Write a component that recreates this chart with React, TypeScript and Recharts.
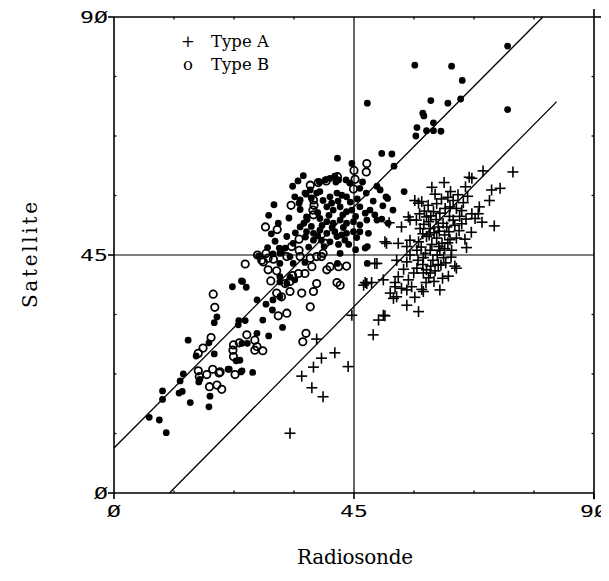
import React from 'react';
import { ScatterChart, Scatter, XAxis, YAxis, ReferenceLine, Customized } from 'recharts';

// Type A (plus markers)
const typeA: [number, number][] = [
  [69.2, 60.9], [74.8, 60.7], [67.1, 59.5], [66.6, 59.7], [61.9, 58.7], [59.6, 57.8], [72.4, 57.6], [70.8, 57.3],
  [70.4, 55.3], [56.4, 55.3], [57.7, 55.1], [62.6, 55.9], [63.6, 55.3], [65.5, 54.9], [65.2, 53.4], [67.1, 52.8],
  [68.3, 52.8], [67.7, 51.9], [55.5, 51.6], [56.7, 51.6], [58.6, 52.2], [59.9, 53.2], [61.1, 52.9], [62.1, 53.8],
  [63.0, 54.1], [64.2, 53.8], [51.6, 51.1], [53.9, 50.3], [71.3, 50.5], [57.4, 50.0], [59.3, 50.0], [60.8, 50.3],
  [62.4, 50.3], [63.9, 50.6], [65.2, 50.9], [50.8, 47.5], [53.3, 47.2], [55.5, 47.8], [57.1, 47.5], [58.6, 48.5],
  [60.5, 48.2], [62.0, 48.8], [63.0, 47.9], [64.2, 48.2], [56.8, 45.9], [59.3, 45.9], [61.1, 45.9], [62.0, 46.2],
  [63.3, 45.9], [48.9, 43.4], [53.0, 44.0], [54.9, 43.7], [56.8, 42.5], [58.6, 42.2], [59.3, 41.6], [58.0, 41.6],
  [60.8, 43.2], [63.9, 42.9], [64.2, 42.5], [50.5, 40.3], [47.4, 39.6], [46.8, 39.3], [53.3, 40.9], [55.2, 40.3],
  [55.8, 39.0], [57.7, 38.5], [61.1, 38.4], [53.9, 38.7], [52.7, 39.0], [51.8, 37.8], [52.4, 36.8], [53.0, 37.1],
  [54.9, 35.5], [57.1, 34.3], [50.5, 33.6], [49.6, 32.7], [48.6, 29.9], [44.6, 33.6], [50.8, 33.5], [38.0, 29.1],
  [41.4, 26.5], [38.9, 25.5], [37.4, 23.8], [35.2, 22.1], [37.1, 19.9], [39.2, 18.2], [43.9, 23.9], [33.0, 11.3],
  [60.2, 56.5], [61.4, 55.6], [58.9, 54.4], [60.5, 54.7], [64.5, 56.4], [66.3, 56.1], [59.0, 51.3], [60.0, 49.2],
  [61.7, 51.0], [63.6, 51.6], [57.9, 49.0], [59.6, 47.0], [61.5, 47.2], [58.0, 44.5], [59.8, 44.0], [61.8, 44.5],
  [60.2, 42.0], [62.7, 41.0], [57.0, 44.0], [55.5, 45.0], [60.0, 40.0], [58.5, 39.8], [56.4, 37.0], [62.2, 43.5],
  [65.8, 48.0], [67.0, 49.3], [69.0, 51.2], [68.5, 54.1], [49.3, 43.4], [47.1, 39.8], [48.3, 39.8], [52.7, 39.8],
  [55.2, 52.2], [57.1, 54.8], [51.1, 47.2], [54.9, 46.6], [58.0, 38.1], [54.9, 38.4],
  [58.2, 53.3], [59.4, 52.4], [60.4, 51.7], [62.9, 52.3], [64.8, 52.3], [66.0, 51.8], [58.1, 50.8], [61.0, 49.5],
  [62.8, 49.4], [64.7, 49.6], [59.1, 48.8], [60.9, 46.6], [62.6, 47.3], [57.6, 46.5], [58.4, 45.3], [60.6, 45.0],
  [61.3, 43.1], [59.4, 42.9], [57.9, 43.2], [59.0, 40.7], [61.6, 40.6], [56.2, 41.6], [54.3, 42.3], [63.2, 44.6],
  [66.1, 46.4], [57.3, 52.8], [65.9, 57.9], [63.1, 57.0],
];

// Type B (open circles)
const typeB: [number, number][] = [
  [47.4, 62.3], [47.3, 60.7], [45.0, 61.0], [45.2, 59.3], [44.9, 57.5], [41.9, 59.8], [39.8, 59.0], [38.3, 58.7],
  [36.8, 58.2], [33.2, 54.4], [37.3, 53.5], [37.5, 54.4], [37.4, 55.4], [37.4, 52.6], [28.4, 50.3], [30.6, 49.8],
  [34.7, 48.0], [33.3, 46.6], [34.7, 45.9], [34.9, 44.7], [32.4, 44.7], [39.6, 47.2], [39.2, 45.3], [26.9, 45.0],
  [27.7, 44.0], [28.9, 44.4], [29.9, 44.2], [28.5, 45.3], [28.0, 43.7], [24.6, 43.3], [36.8, 44.4], [38.0, 44.7],
  [38.9, 44.7], [40.5, 42.8], [43.6, 42.9], [37.1, 42.8], [39.9, 42.2], [42.1, 42.8], [28.9, 42.2], [30.5, 42.0],
  [29.4, 40.1], [33.5, 41.1], [33.0, 40.0], [34.6, 41.5], [35.8, 41.5], [38.0, 39.6], [37.4, 38.1], [35.2, 37.8],
  [33.0, 38.1], [32.1, 39.6], [41.8, 39.8], [42.4, 39.3], [30.5, 37.8], [31.4, 37.1], [18.6, 37.6], [18.9, 35.1],
  [30.8, 33.5], [32.4, 34.0], [36.8, 35.2], [36.0, 30.2], [35.4, 28.6], [24.9, 29.9], [23.5, 28.4], [22.4, 28.0],
  [22.3, 27.0], [26.4, 28.9], [26.8, 27.7], [26.4, 27.0], [27.9, 26.9], [18.2, 29.4], [16.7, 27.4], [15.8, 26.4],
  [22.4, 25.8], [22.7, 22.4], [15.8, 23.1], [16.0, 22.0], [17.4, 22.4], [18.5, 23.4], [19.9, 22.9], [17.9, 20.1],
  [19.3, 20.4], [20.2, 19.6], [19.7, 22.7],
];

// Unlabelled (filled dots)
const typeC: [number, number][] = [
  [73.8, 84.5], [63.3, 80.7], [56.4, 80.9], [65.3, 78.0], [59.4, 74.2], [62.6, 73.7], [65.0, 74.5], [47.5, 73.7],
  [73.8, 72.5], [58.1, 71.3], [57.9, 71.8], [56.8, 69.1], [56.6, 67.5], [58.6, 68.5], [59.9, 68.5], [59.9, 70.0],
  [61.3, 68.4], [50.2, 64.2], [52.1, 64.1], [52.5, 61.8], [41.9, 63.3], [44.6, 62.3], [49.3, 58.0], [51.3, 55.7],
  [54.4, 57.0], [52.3, 53.5], [51.4, 51.0], [47.5, 46.6], [47.5, 43.4], [42.4, 45.3], [41.9, 43.4], [47.1, 46.3],
  [43.5, 59.2], [41.6, 58.8], [41.4, 59.9], [38.5, 58.8], [39.6, 59.2], [40.5, 59.5], [42.1, 59.2], [36.0, 56.5],
  [38.6, 57.0], [38.0, 56.7], [35.8, 56.7], [36.8, 57.3], [33.9, 56.0], [34.9, 55.4], [34.7, 54.8], [34.9, 53.6],
  [40.5, 56.0], [41.8, 56.7], [42.7, 56.3], [43.6, 56.0], [46.1, 57.6], [47.3, 56.7], [49.9, 57.3], [51.0, 56.0],
  [36.2, 51.7], [39.9, 54.1], [41.1, 53.5], [42.4, 54.1], [43.6, 53.2], [44.6, 53.5], [46.1, 54.1], [47.1, 52.9],
  [48.0, 53.5], [48.9, 52.6], [36.1, 52.2], [38.6, 51.9], [39.9, 51.3], [41.1, 51.0], [42.4, 51.6], [43.6, 51.0],
  [44.9, 51.3], [46.1, 50.7], [47.4, 51.6], [49.3, 51.6], [50.2, 51.8], [34.9, 50.3], [36.1, 49.4], [37.4, 49.1],
  [38.6, 49.7], [39.9, 49.1], [41.4, 49.4], [42.7, 48.8], [43.6, 49.1], [44.9, 49.4], [46.1, 49.4], [47.7, 49.1],
  [37.4, 47.8], [38.9, 47.8], [40.5, 47.5], [41.8, 48.5], [43.3, 47.8], [33.6, 47.2], [32.1, 46.3], [31.1, 45.3],
  [32.4, 48.5], [28.8, 46.4], [31.0, 46.3], [31.4, 45.6], [27.1, 44.8], [33.0, 44.7], [31.1, 43.4], [33.6, 43.4],
  [35.8, 43.6], [31.1, 40.9], [31.1, 39.9], [32.4, 39.6], [33.0, 40.8], [33.9, 40.3], [34.5, 59.0], [35.5, 60.0],
  [33.5, 58.0], [30.0, 54.5], [29.0, 52.5], [30.8, 51.0], [32.8, 52.0], [44.0, 47.0], [45.3, 46.0], [29.5, 49.0],
  [23.9, 40.1], [24.8, 38.9], [22.2, 39.0], [24.1, 40.0], [26.8, 36.5], [28.5, 35.7], [29.8, 36.5], [31.1, 37.1],
  [29.7, 34.6], [27.9, 32.7], [31.6, 31.3], [19.3, 33.3], [18.8, 32.2], [23.4, 32.6], [23.3, 31.8], [24.6, 32.6],
  [13.9, 28.9], [15.4, 25.9], [17.8, 28.4], [18.8, 26.3], [26.8, 30.2], [29.0, 29.7], [25.0, 28.3], [24.0, 28.3],
  [21.4, 23.4], [22.9, 25.0], [23.6, 25.1], [24.0, 23.1], [26.0, 22.8], [16.1, 21.5], [21.6, 23.4], [23.8, 22.9],
  [6.6, 14.3], [8.5, 13.8], [9.8, 11.4], [9.1, 19.3], [9.1, 17.7], [12.4, 21.2], [13.0, 22.5], [12.2, 18.9],
  [12.8, 19.2], [14.3, 17.1], [15.9, 21.0], [17.8, 16.3], [18.0, 18.3],
  [37.0, 55.8], [39.2, 55.3], [40.8, 54.8], [42.0, 55.2], [44.3, 55.0], [45.6, 55.6], [38.2, 53.0], [40.3, 52.5],
  [42.9, 52.6], [45.3, 52.3], [35.6, 51.0], [37.0, 50.4], [39.0, 50.6], [40.9, 50.2], [43.0, 50.2], [45.5, 48.3],
  [34.0, 49.2], [35.9, 48.4], [38.2, 48.6], [39.4, 46.6], [42.1, 47.0], [36.5, 46.5], [30.2, 47.6], [29.8, 45.2],
  [48.6, 55.2], [50.4, 54.3], [46.6, 58.8], [44.2, 58.6],
];

const upperFit = [{ x: 0, y: 8.5 }, { x: 80.4, y: 90 }];
const lowerFit = [{ x: 10.4, y: 0 }, { x: 83.0, y: 74.0 }];
const majorTicks = [0, 45, 90];
const tickLabels = ['Ø', '45', '9Ø'];
const minorTicks = [11.25, 22.5, 33.75, 56.25, 67.5, 78.75];
const legendItems = [
  { mark: '+', label: 'Type A' },
  { mark: 'o', label: 'Type B' },
];
const xTitle = 'Radiosonde';
const yTitle = 'Satellite';

const toPts = (arr: [number, number][]) => arr.map(([x, y]) => ({ x, y }));
const labelFor = (v: number) => tickLabels[majorTicks.indexOf(v)] ?? String(v);

const PlusShape = (p: any) => (
  <g>
    <line x1={p.cx - 5.5} x2={p.cx + 5.5} y1={p.cy} y2={p.cy} stroke="#000" strokeWidth={1.6} />
    <line x1={p.cx} x2={p.cx} y1={p.cy - 5.5} y2={p.cy + 5.5} stroke="#000" strokeWidth={1.6} />
  </g>
);
const OpenShape = (p: any) => <circle cx={p.cx} cy={p.cy} r={3.7} fill="none" stroke="#000" strokeWidth={1.8} />;
const DotShape = (p: any) => <circle cx={p.cx} cy={p.cy} r={3.4} fill="#000" />;

const tickFont = { fontFamily: 'DejaVu Sans Mono', fontSize: 16, fill: '#000' };

const YTick = (p: any) => (
  <text transform={`translate(${p.x + 2},${p.y + 6}) scale(1.45,1)`} textAnchor="end" {...tickFont}>
    {labelFor(p.payload.value)}
  </text>
);
const XTick = (p: any) => (
  <text transform={`translate(${p.x},${p.y + 16}) scale(1.45,1)`} textAnchor="middle" {...tickFont}>
    {labelFor(p.payload.value)}
  </text>
);

const Titles = () => (
  <g fontFamily="DejaVu Serif" fill="#000">
    <text x={355} y={564} textAnchor="middle" fontSize={20} textLength={116} lengthAdjust="spacing">{xTitle}</text>
    <text transform="translate(37,255) rotate(-90)" textAnchor="middle" fontSize={20} textLength={106} lengthAdjust="spacing">{yTitle}</text>
    {legendItems.map((it, i) => (
      <g key={it.label} fontSize={16.5}>
        <text x={188} y={47 + i * 23} textAnchor="middle">{it.mark}</text>
        <text x={211} y={47 + i * 23}>{it.label}</text>
      </g>
    ))}
  </g>
);

export default function App() {
  const line = { stroke: '#000', strokeWidth: 1.3 };
  const frame = { stroke: '#000', strokeWidth: 1.6 };
  return (
    <div style={{ margin: -8, width: 609, height: 581, background: '#fff' }}>
      <ScatterChart width={609} height={581} margin={{ top: 17, right: 15, bottom: 0, left: 0 }}>
        <XAxis
          type="number"
          dataKey="x"
          domain={[0, 90]}
          ticks={majorTicks}
          height={88}
          tickSize={6}
          tick={<XTick />}
          axisLine={frame}
          tickLine={frame}
          allowDataOverflow
        />
        <YAxis
          type="number"
          dataKey="y"
          domain={[0, 90]}
          ticks={majorTicks}
          width={114}
          tickSize={6}
          tick={<YTick />}
          axisLine={frame}
          tickLine={frame}
          allowDataOverflow
        />
        <ReferenceLine x={90} {...frame} />
        <ReferenceLine y={90} {...frame} />
        <ReferenceLine segment={[{ x: 90, y: 90 }, { x: 91.5, y: 90 }]} ifOverflow="visible" {...frame} />
        <ReferenceLine segment={[{ x: 90, y: 90 }, { x: 90, y: 91.5 }]} ifOverflow="visible" {...frame} />
        <ReferenceLine segment={[{ x: 90, y: 0 }, { x: 90, y: -1.2 }]} ifOverflow="visible" {...frame} />
        <ReferenceLine x={45} stroke="#000" strokeWidth={1.2} />
        <ReferenceLine y={45} stroke="#000" strokeWidth={1.2} />
        {minorTicks.map((t) => (
          <ReferenceLine key={'b' + t} segment={[{ x: t, y: 0 }, { x: t, y: 0.45 }]} {...line} />
        ))}
        {minorTicks.map((t) => (
          <ReferenceLine key={'t' + t} segment={[{ x: t, y: 90 }, { x: t, y: 89.55 }]} {...line} />
        ))}
        {minorTicks.map((t) => (
          <ReferenceLine key={'l' + t} segment={[{ x: 0, y: t }, { x: 0.45, y: t }]} {...line} />
        ))}
        {minorTicks.map((t) => (
          <ReferenceLine key={'r' + t} segment={[{ x: 90, y: t }, { x: 89.55, y: t }]} {...line} />
        ))}
        <ReferenceLine segment={upperFit} {...line} />
        <ReferenceLine segment={lowerFit} {...line} />
        <Scatter data={toPts(typeC)} shape={<DotShape />} isAnimationActive={false} />
        <Scatter data={toPts(typeB)} shape={<OpenShape />} isAnimationActive={false} />
        <Scatter data={toPts(typeA)} shape={<PlusShape />} isAnimationActive={false} />
        <Customized component={<Titles />} />
      </ScatterChart>
    </div>
  );
}
